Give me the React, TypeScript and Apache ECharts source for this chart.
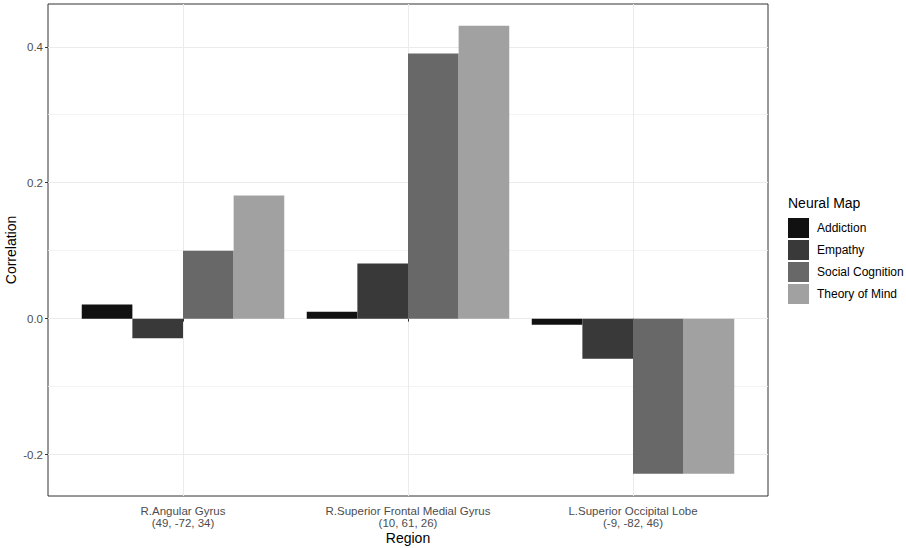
import React, { useEffect, useRef } from "react";
import * as echarts from "echarts";

const regions = [
  "R.Angular Gyrus\n(49, -72, 34)",
  "R.Superior Frontal Medial Gyrus\n(10, 61, 26)",
  "L.Superior Occipital Lobe\n(-9, -82, 46)",
];
const mapNames = ["Addiction", "Empathy", "Social Cognition", "Theory of Mind"];
const addiction = [0.021, 0.01, -0.009];
const empathy = [-0.029, 0.081, -0.059];
const socialCognition = [0.1, 0.39, -0.228];
const theoryOfMind = [0.181, 0.431, -0.228];
const seriesValues = [addiction, empathy, socialCognition, theoryOfMind];
const fillColors = ["#111111", "#393939", "#686868", "#a1a1a1"];
const majorTicks = [-0.2, 0, 0.2, 0.4];
const minorTicks = [-0.1, 0.1, 0.3];
const yMin = -0.2609;
const yMax = 0.4629;

const FONT = "'Liberation Sans', Arial, sans-serif";

export default function App() {
  const ref = useRef<HTMLDivElement>(null);
  useEffect(() => {
    if (!ref.current) return;
    const chart = echarts.init(ref.current, null, { renderer: "svg" });
    const panelLeft = 48;
    const panelTop = 4;
    const panelW = 720;
    const panelH = 492;
    const unit = panelW / 3.2;
    chart.setOption({
      animation: false,
      backgroundColor: "#ffffff",
      textStyle: { fontFamily: FONT },
      title: {
        text: "Neural Map",
        left: 788,
        top: 196,
        padding: 0,
        textStyle: { fontSize: 14, fontWeight: "normal", color: "#000000", fontFamily: FONT },
      },
      legend: {
        data: mapNames,
        orient: "vertical",
        left: 788,
        top: 218,
        padding: 0,
        itemWidth: 21,
        itemHeight: 20,
        itemGap: 2,
        icon: "rect",
        textStyle: { fontSize: 12, color: "#000000", fontFamily: FONT, padding: [0, 0, 0, 3] },
      },
      grid: [
        {
          left: panelLeft,
          top: panelTop,
          width: panelW,
          height: panelH,
          show: true,
          borderColor: "#333333",
          borderWidth: 1,
          backgroundColor: "transparent",
          containLabel: false,
          outerBoundsMode: "none",
        },
        {
          left: panelLeft + 0.6 * unit - unit / 2,
          top: panelTop,
          width: unit * 3,
          height: panelH,
          containLabel: false,
          outerBoundsMode: "none",
        },
      ],
      xAxis: [
        {
          type: "value",
          gridIndex: 0,
          min: 0,
          max: 1,
          show: false,
        },
        {
          type: "category",
          gridIndex: 1,
          data: regions,
          name: "Region",
          nameLocation: "middle",
          nameGap: 35,
          nameMoveOverlap: false,
          nameTextStyle: { fontSize: 14, color: "#000000", fontFamily: FONT },
          axisLine: { show: false },
          axisTick: { show: true, alignWithLabel: true, length: 3, lineStyle: { color: "#333333" } },
          axisLabel: { fontSize: 11.5, color: "#4d4d4d", margin: 8.5, lineHeight: 12, fontFamily: FONT },
          splitLine: { show: true, alignWithLabel: true, lineStyle: { color: "#ebebeb", width: 1 } },
        },
      ],
      yAxis: [
        {
          type: "value",
          gridIndex: 0,
          min: yMin,
          max: yMax,
          name: "Correlation",
          nameLocation: "middle",
          nameRotate: 90,
          nameGap: 30,
          nameMoveOverlap: false,
          nameTextStyle: { fontSize: 14, color: "#000000", fontFamily: FONT },
          axisLine: { show: false },
          axisTick: { show: true, length: 3, customValues: majorTicks, lineStyle: { color: "#333333" } },
          axisLabel: {
            customValues: majorTicks,
            fontSize: 11.5,
            color: "#4d4d4d",
            margin: 5,
            fontFamily: FONT,
            formatter: (v: number) => v.toFixed(1),
          },
          splitLine: { show: true, lineStyle: { color: "#ebebeb", width: 1.2 } },
        },
        {
          type: "value",
          gridIndex: 0,
          min: yMin,
          max: yMax,
          position: "left",
          axisLine: { show: false },
          axisTick: { show: false, customValues: minorTicks },
          axisLabel: { show: false, customValues: minorTicks },
          splitLine: { show: true, lineStyle: { color: "#f0f0f0", width: 0.8 } },
        },
        {
          type: "value",
          gridIndex: 1,
          min: yMin,
          max: yMax,
          show: false,
          splitLine: { show: false },
        },
      ],
      series: mapNames.map((name, i) => ({
        name,
        type: "bar",
        xAxisIndex: 1,
        yAxisIndex: 2,
        data: seriesValues[i],
        barGap: "0%",
        barCategoryGap: "10%",
        itemStyle: { color: fillColors[i] },
        emphasis: { disabled: true },
      })),
    });
    return () => chart.dispose();
  }, []);
  return (
    <div
      ref={ref}
      style={{ position: "absolute", left: 0, top: 0, width: 906, height: 548 }}
    />
  );
}
